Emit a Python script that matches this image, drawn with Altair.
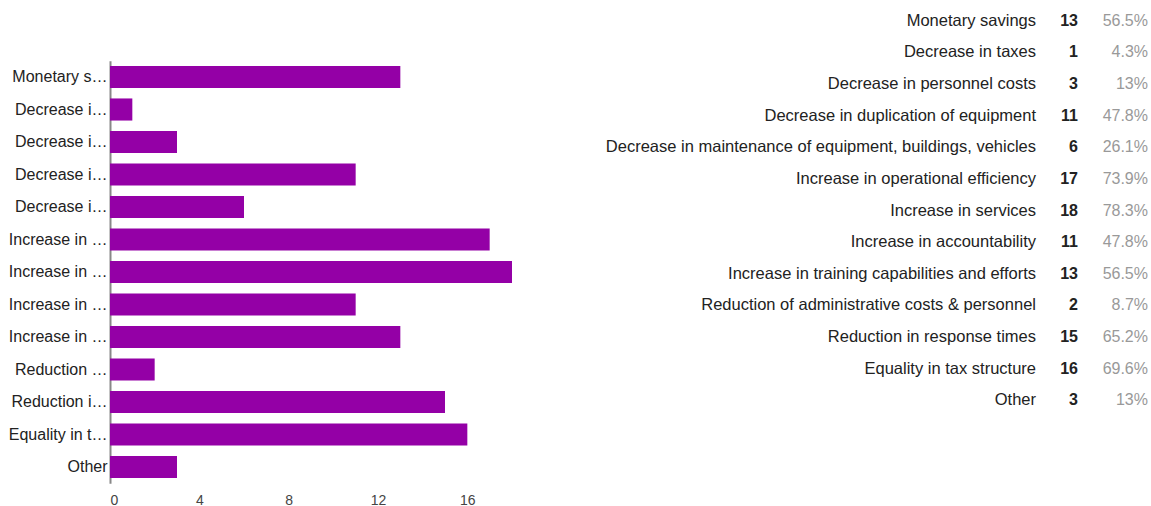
import altair as alt
import pandas as pd

categories = [
    "Monetary savings",
    "Decrease in taxes",
    "Decrease in personnel costs",
    "Decrease in duplication of equipment",
    "Decrease in maintenance of equipment, buildings, vehicles",
    "Increase in operational efficiency",
    "Increase in services",
    "Increase in accountability",
    "Increase in training capabilities and efforts",
    "Reduction of administrative costs & personnel",
    "Reduction in response times",
    "Equality in tax structure",
    "Other",
]
counts = [13, 1, 3, 11, 6, 17, 18, 11, 13, 2, 15, 16, 3]
percents = ["56.5%", "4.3%", "13%", "47.8%", "26.1%", "73.9%", "78.3%",
            "47.8%", "56.5%", "8.7%", "65.2%", "69.6%", "13%"]
x_ticks = [0, 4, 8, 12, 16]

df = pd.DataFrame({"category": categories, "count": counts, "pct": percents})

FONT = "Liberation Sans"
BAR = "#9400a6"

left = alt.Chart(df).mark_bar(color=BAR).encode(
    x=alt.X("count:Q",
            scale=alt.Scale(domain=[0, 18], nice=False),
            axis=alt.Axis(values=x_ticks, title=None, grid=False, domain=False,
                          ticks=False, labelColor="#444", labelFontSize=14,
                          labelPadding=10, labelFont=FONT)),
    y=alt.Y("category:N", sort=categories,
            scale=alt.Scale(range=[55.75, 478.25], paddingInner=0.32, paddingOuter=0.16),
            axis=alt.Axis(title=None, ticks=False, grid=False, domainColor="#888",
                          domainWidth=2, labelLimit=100, labelFontSize=16,
                          labelColor="#222", labelPadding=3, labelFont=FONT)),
).properties(width=402, height=478)

base = alt.Chart(df).encode(
    y=alt.Y("category:N", sort=categories, axis=None,
            scale=alt.Scale(paddingInner=0, paddingOuter=0))
)
label_col = base.mark_text(align="right", baseline="middle", fontSize=16.5,
                           font=FONT, color="#222").encode(
    x=alt.value(506), text="category:N")
count_col = base.mark_text(align="right", baseline="middle", fontSize=16,
                           font=FONT, color="#222", fontWeight="bold").encode(
    x=alt.value(548), text="count:Q")
pct_col = base.mark_text(align="right", baseline="middle", fontSize=16,
                         font=FONT, color="#999").encode(
    x=alt.value(618), text="pct:N")
right = alt.layer(label_col, count_col, pct_col).properties(width=620, height=411)

chart = alt.hconcat(left, right, spacing=18).properties(
    padding={"left": 8, "top": 5, "right": 0, "bottom": 0},
    background="white",
).configure_view(stroke=None)

chart.save("out.html", embed_options={"renderer": "svg", "actions": False})
